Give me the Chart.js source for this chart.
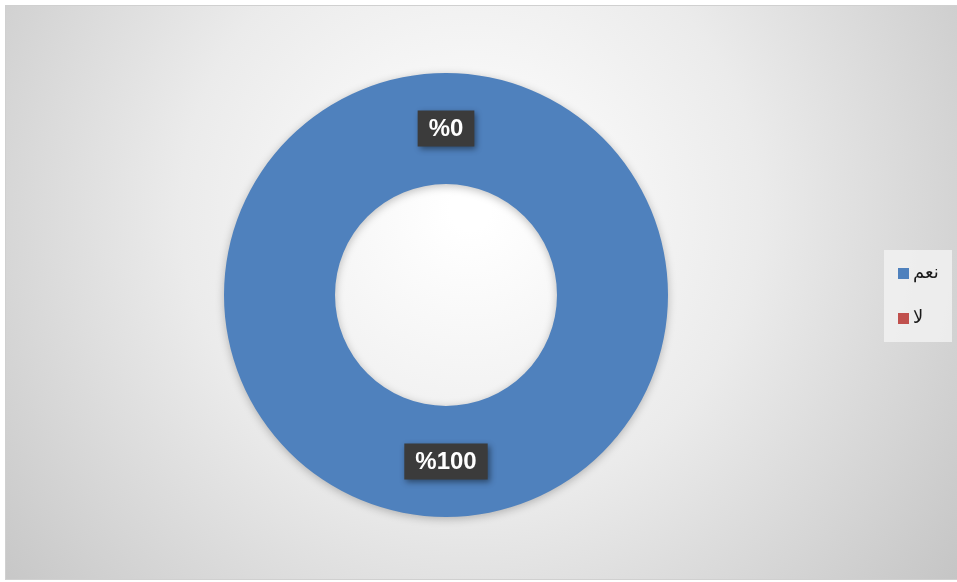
<!DOCTYPE html>
<html>
<head>
<meta charset="utf-8">
<script src="https://cdn.jsdelivr.net/npm/chart.js@4/dist/chart.umd.min.js"></script>
<style>
    html, body { margin: 0; padding: 0; background: #ffffff; }
    canvas { display: block; }
</style>
</head>
<body>
<canvas id="answersChart" width="957" height="582"></canvas>
<script>
// data
const categories = ['نعم', 'لا'];
const percentValues = [100, 0];
const sliceColors = ['#4f81bd', '#c0504d'];

// background panel with soft radial shading
const panelBackground = {
    id: 'panelBackground',
    beforeDraw(chart) {
        const ctx = chart.ctx;
        ctx.save();
        const g = ctx.createRadialGradient(470, 210, 20, 470, 210, 620);
        g.addColorStop(0, '#ffffff');
        g.addColorStop(0.45, '#ebebeb');
        g.addColorStop(1, '#c4c4c4');
        ctx.fillStyle = g;
        ctx.fillRect(5, 5, 952, 575);
        ctx.strokeStyle = '#d0d0d0';
        ctx.lineWidth = 1;
        ctx.strokeRect(5.5, 5.5, 952, 574);
        ctx.restore();
    },
    beforeDatasetsDraw(chart) {
        const ctx = chart.ctx;
        ctx.save();
        ctx.shadowColor = 'rgba(0,0,0,0.25)';
        ctx.shadowBlur = 8;
        ctx.shadowOffsetY = 2;
    },
    afterDatasetsDraw(chart) {
        chart.ctx.restore();
    }
};

// percentage labels in dark boxes
const percentLabels = {
    id: 'percentLabels',
    afterDraw(chart) {
        const ctx = chart.ctx;
        const meta = chart.getDatasetMeta(0);
        ctx.save();
        ctx.font = 'bold 24px "Liberation Sans", Arial, sans-serif';
        ctx.textAlign = 'center';
        ctx.textBaseline = 'middle';
        meta.data.forEach((arc, i) => {
            const pos = arc.tooltipPosition();
            const text = '%' + percentValues[i];
            const w = ctx.measureText(text).width + 22;
            const h = 36;
            ctx.save();
            ctx.shadowColor = 'rgba(0,0,0,0.45)';
            ctx.shadowBlur = 6;
            ctx.shadowOffsetX = 2;
            ctx.shadowOffsetY = 2;
            ctx.fillStyle = '#3b3b3b';
            ctx.fillRect(pos.x - w / 2, pos.y - h / 2, w, h);
            ctx.restore();
            ctx.fillStyle = '#ffffff';
            ctx.fillText(text, pos.x, pos.y + 1);
        });
        ctx.restore();
    }
};

// legend on the right, right-to-left
const sideLegend = {
    id: 'sideLegend',
    afterDraw(chart) {
        const ctx = chart.ctx;
        ctx.save();
        ctx.fillStyle = 'rgba(242,242,242,0.8)';
        ctx.fillRect(884, 250, 68, 92);
        ctx.font = '18px "DejaVu Sans", sans-serif';
        ctx.textBaseline = 'middle';
        ctx.textAlign = 'left';
        chart.data.labels.forEach((label, i) => {
            const y = 273 + i * 45;
            ctx.fillStyle = chart.data.datasets[0].backgroundColor[i];
            ctx.fillRect(898, y - 5, 11, 11);
            ctx.fillStyle = '#1a1a1a';
            ctx.fillText(label, 913, y);
        });
        ctx.restore();
    }
};

const ctx = document.getElementById('answersChart').getContext('2d');
new Chart(ctx, {
    type: 'doughnut',
    data: {
        labels: categories,
        datasets: [{
            data: percentValues,
            backgroundColor: sliceColors,
            borderWidth: 0
        }]
    },
    options: {
        responsive: false,
        animation: false,
        events: [],
        cutout: '50%',
        layout: {
            padding: { left: 224, right: 289, top: 73, bottom: 65 }
        },
        plugins: {
            legend: { display: false },
            tooltip: { enabled: false }
        }
    },
    plugins: [panelBackground, percentLabels, sideLegend]
});
</script>
</body>
</html>
